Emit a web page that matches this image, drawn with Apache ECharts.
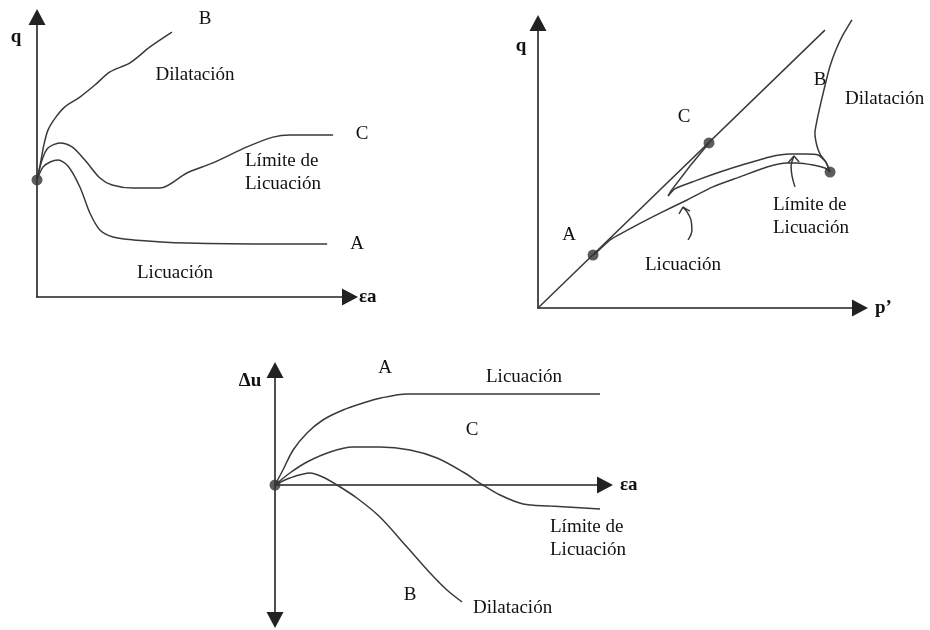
<!DOCTYPE html>
<html>
<head>
<meta charset="utf-8">
<script src="https://cdn.jsdelivr.net/npm/echarts@6/dist/echarts.min.js"></script>
<style>
  html, body { margin: 0; padding: 0; background: #fff; }
  #chart { width: 930px; height: 630px; }
</style>
</head>
<body>
<div id="chart"></div>
<script>
// Panel 1: q vs εa (axial strain), three undrained responses from a common start
var qStrainB = [[0,41.8],[1.0,47.1],[2.2,54.3],[3.5,59.6],[5.8,63.9],[8.9,67.9],[13.7,71.4],[18.5,75.7],[23.3,80.4],[29.7,83.6],[36.1,89.3],[43.1,94.6]];
var qStrainC = [[0,41.8],[1.6,48.9],[3.5,53.2],[7.3,55.0],[11.2,53.6],[15.3,48.9],[20.1,42.5],[24.0,40.0],[30.7,38.9],[39.3,38.9],[47.9,44.3],[56.2,47.9],[67.1,53.6],[75.4,57.1],[80.8,57.9],[94.6,57.9]];
var qStrainA = [[0,41.8],[1.9,46.4],[4.2,48.2],[6.7,48.9],[9.9,46.8],[13.7,39.3],[16.9,30.0],[20.1,23.9],[24.3,21.4],[30.7,20.4],[47.9,19.3],[77.6,18.9],[92.7,18.9]];
var qStrainStart = [[0,41.8]];

// Panel 2: stress paths in q–p' plane
var cslLine = [[0,0],[89.1,97.5]];
var pathA = [[90.7,47.7],[89.1,49.1],[85.4,50.2],[80.4,50.9],[77.3,50.9],[71.1,49.5],[62.7,46.0],[54.3,42.5],[46.3,37.9],[37.9,33.3],[29.5,28.4],[22.4,23.9],[18.3,19.6],[17.1,18.6]];
var pathCLower = [[90.7,47.7],[89.4,51.2],[87.0,53.7],[82.9,54.0],[78.3,54.0],[72.0,53.0],[64.3,50.5],[56.5,47.7],[48.8,44.6],[42.5,41.8],[40.4,39.3]];
var pathCUpper = [[40.4,39.3],[41.3,41.1],[47.2,49.8],[53.1,57.9]];
var pathB = [[90.7,47.7],[89.4,51.2],[87.6,54.0],[86.6,57.0],[86.0,61.4],[86.6,65.6],[88.2,73.7],[89.4,79.3],[90.7,84.9],[92.5,90.5],[94.7,95.8],[97.5,101.1]];
var pathDots = [[90.7,47.7],[17.1,18.6],[53.1,57.9]];
var pointerLicStem = [[46.6,23.9],[47.8,27.4],[47.5,30.9],[46.3,33.7],[45.0,35.4]];
var pointerLicHead = [[43.8,33.0],[45.0,35.4],[47.2,34.0]];
var pointerLimStem = [[79.8,42.5],[78.9,46.3],[78.6,49.5],[79.5,53.3]];
var pointerLimHead = [[77.6,50.9],[79.5,53.3],[81.1,51.2]];

// Panel 3: excess pore pressure Δu vs εa
var duA = [[0,0],[2.4,6],[5.5,14],[9.7,20.8],[14.5,26],[20.6,30],[26.7,32.8],[32.1,34.8],[40,36.4],[98.5,36.4]];
var duC = [[0,0],[4.5,4.8],[9.7,9.2],[16.7,13.2],[23.6,15.2],[31.8,15.2],[40.9,14],[49.1,10.8],[57,5.2],[63,0],[68.2,-4],[75.2,-7.6],[83.3,-8.4],[98.5,-9.6]];
var duB = [[0,0],[4.5,2.8],[10.6,4.8],[14.5,3.2],[18.8,0],[24.8,-5.2],[31.8,-12.8],[40,-24.8],[47,-35.2],[52.1,-42],[56.7,-46.8]];
var duStart = [[0,0]];

var SERIF = '"Liberation Serif", "Times New Roman", serif';
var INK = '#111';
var CURVE = '#3a3a3a';

function axisBase(ext) {
  var a = {
    type: 'value',
    axisLine: {
      show: true,
      onZero: true,
      symbol: ['none', 'triangle'],
      symbolSize: [17, 16],
      lineStyle: { color: '#222', width: 1.6 }
    },
    axisTick: { show: false },
    axisLabel: { show: false },
    splitLine: { show: false }
  };
  for (var k in ext) a[k] = ext[k];
  return a;
}

function curve(data, xi, smooth) {
  return {
    type: 'line',
    xAxisIndex: xi, yAxisIndex: xi,
    data: data,
    smooth: smooth === undefined ? 0.3 : smooth,
    showSymbol: false,
    clip: false,
    silent: true,
    lineStyle: { color: CURVE, width: 1.5 },
    z: 3
  };
}

function dots(data, xi) {
  return {
    type: 'scatter',
    xAxisIndex: xi, yAxisIndex: xi,
    data: data,
    symbol: 'circle',
    symbolSize: 11,
    clip: false,
    silent: true,
    itemStyle: { color: '#333' },
    z: 5
  };
}

function txt(s, x, y, opts) {
  opts = opts || {};
  return {
    type: 'text',
    x: x, y: y,
    silent: true,
    style: {
      text: s,
      fill: INK,
      font: (opts.bold ? 'bold ' : '') + (opts.size || 19) + 'px ' + SERIF,
      textAlign: opts.align || 'center',
      textVerticalAlign: 'middle'
    }
  };
}

var axisName = function (name, gap) {
  return {
    name: name,
    nameLocation: 'end',
    nameGap: gap,
    nameTextStyle: { fontFamily: SERIF, fontWeight: 'bold', fontSize: 19, color: INK, verticalAlign: 'middle' }
  };
};

var chart = echarts.init(document.getElementById('chart'), null, { renderer: 'canvas' });

var nx1 = axisName('εa', 9);  nx1.min = 0; nx1.max = 100; nx1.gridIndex = 0;
var nx2 = axisName('p’', 15); nx2.min = 0; nx2.max = 100; nx2.gridIndex = 1;
var nx3 = axisName('εa', 15); nx3.min = 0; nx3.max = 100; nx3.gridIndex = 2;

var y3 = axisBase({ gridIndex: 2, min: -54, max: 46 });
y3.axisLine.symbol = ['triangle', 'triangle'];

chart.setOption({
  animation: false,
  backgroundColor: '#fff',
  grid: [
    { left: 37, top: 17, width: 313, height: 280 },
    { left: 538, top: 23, width: 322, height: 285 },
    { left: 275, top: 370, width: 330, height: 250 }
  ],
  xAxis: [axisBase(nx1), axisBase(nx2), axisBase(nx3)],
  yAxis: [
    axisBase({ gridIndex: 0, min: 0, max: 100 }),
    axisBase({ gridIndex: 1, min: 0, max: 100 }),
    y3
  ],
  series: [
    curve(qStrainB, 0), curve(qStrainC, 0), curve(qStrainA, 0), dots(qStrainStart, 0),

    curve(cslLine, 1, false),
    curve(pathA, 1, 0.2), curve(pathCLower, 1, 0.2), curve(pathCUpper, 1, false), curve(pathB, 1, 0.2),
    curve(pointerLicStem, 1, 0.4), curve(pointerLicHead, 1, false),
    curve(pointerLimStem, 1, 0.4), curve(pointerLimHead, 1, false),
    dots(pathDots, 1),

    curve(duA, 2), curve(duC, 2), curve(duB, 2), dots(duStart, 2)
  ],
  graphic: [
    // panel 1
    txt('q', 16, 37, { bold: true }),
    txt('B', 205, 19),
    txt('Dilatación', 195, 75),
    txt('C', 362, 134),
    txt('Límite de', 245, 161, { align: 'left' }),
    txt('Licuación', 245, 184, { align: 'left' }),
    txt('A', 357, 244),
    txt('Licuación', 175, 273),
    // panel 2
    txt('q', 521, 46, { bold: true }),
    txt('C', 684, 117),
    txt('A', 569, 235),
    txt('B', 820, 80),
    txt('Dilatación', 845, 99, { align: 'left' }),
    txt('Límite de', 773, 205, { align: 'left' }),
    txt('Licuación', 773, 228, { align: 'left' }),
    txt('Licuación', 683, 265),
    // panel 3
    txt('Δu', 250, 381, { bold: true }),
    txt('A', 385, 368),
    txt('Licuación', 524, 377),
    txt('C', 472, 430),
    txt('Límite de', 550, 527, { align: 'left' }),
    txt('Licuación', 550, 550, { align: 'left' }),
    txt('B', 410, 595),
    txt('Dilatación', 473, 608, { align: 'left' })
  ]
});
</script>
</body>
</html>
